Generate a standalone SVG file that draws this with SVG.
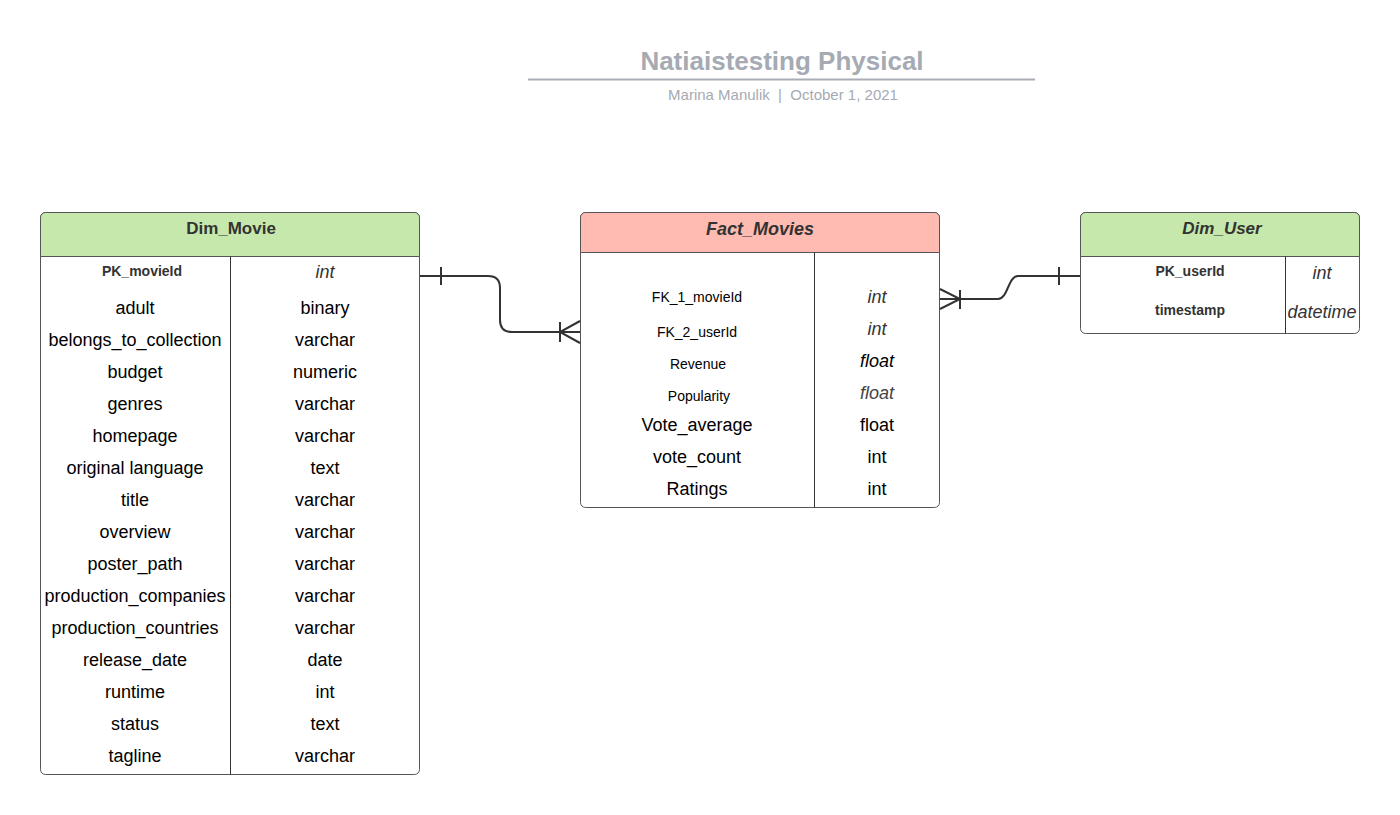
<svg xmlns="http://www.w3.org/2000/svg" width="1400" height="815" viewBox="0 0 1400 815">
<style>
text{font-family:"Liberation Sans",Arial,sans-serif;text-anchor:middle}
.hdr{font-size:17px;font-weight:bold;fill:#333}
.pk{font-size:14px;font-weight:bold;fill:#333}
.f{font-size:18px;fill:#000}
.s{font-size:14px;fill:#000}
.i{font-size:18px;font-style:italic;fill:#333}
.box{fill:#fff;stroke:#555;stroke-width:1}
.div{stroke:#333;stroke-width:1}
.con{fill:none;stroke:#333;stroke-width:2}
</style>
<rect width="1400" height="815" fill="#fff"/>
<g id="title">
<text x="782" y="70" style="font-size:26px;font-weight:bold;fill:#a5aab3">Natiaistesting Physical</text>
<line x1="528" y1="79.500" x2="1035" y2="79.500" stroke="#a9adb5" stroke-width="2"/>
<text x="783" y="100" style="font-size:15px;fill:#a5aab3">Marina Manulik &#160;|&#160; October 1, 2021</text>
</g>
<g id="dim_movie">
<rect class="box" x="40.500" y="212.500" width="379" height="562" rx="5"/>
<path d="M40.500 256.500 V217.500 a5 5 0 0 1 5 -5 H414.500 a5 5 0 0 1 5 5 V256.500 Z" fill="#c7e8ac" stroke="#555"/>
<line class="div" x1="230.500" y1="256.500" x2="230.500" y2="774.500"/>
<text class="hdr" x="231" y="234">Dim_Movie</text>
<text class="pk" x="142" y="276">PK_movieId</text>
<text class="i" x="325" y="278">int</text>
<text class="f" x="135" y="314">adult</text><text class="f" x="325" y="314">binary</text>
<text class="f" x="135" y="346">belongs_to_collection</text><text class="f" x="325" y="346">varchar</text>
<text class="f" x="135" y="378">budget</text><text class="f" x="325" y="378">numeric</text>
<text class="f" x="135" y="410">genres</text><text class="f" x="325" y="410">varchar</text>
<text class="f" x="135" y="442">homepage</text><text class="f" x="325" y="442">varchar</text>
<text class="f" x="135" y="474">original language</text><text class="f" x="325" y="474">text</text>
<text class="f" x="135" y="506">title</text><text class="f" x="325" y="506">varchar</text>
<text class="f" x="135" y="538">overview</text><text class="f" x="325" y="538">varchar</text>
<text class="f" x="135" y="570">poster_path</text><text class="f" x="325" y="570">varchar</text>
<text class="f" x="135" y="602">production_companies</text><text class="f" x="325" y="602">varchar</text>
<text class="f" x="135" y="634">production_countries</text><text class="f" x="325" y="634">varchar</text>
<text class="f" x="135" y="666">release_date</text><text class="f" x="325" y="666">date</text>
<text class="f" x="135" y="698">runtime</text><text class="f" x="325" y="698">int</text>
<text class="f" x="135" y="730">status</text><text class="f" x="325" y="730">text</text>
<text class="f" x="135" y="762">tagline</text><text class="f" x="325" y="762">varchar</text>
</g>
<g id="fact_movies">
<rect class="box" x="580.500" y="212.500" width="359" height="295" rx="5"/>
<path d="M580.500 252.500 V217.500 a5 5 0 0 1 5 -5 H934.500 a5 5 0 0 1 5 5 V252.500 Z" fill="#ffbbb1" stroke="#555"/>
<line class="div" x1="814.500" y1="252.500" x2="814.500" y2="507.500"/>
<text class="hdr" x="760" y="235" style="font-size:18px;font-style:italic">Fact_Movies</text>
<text class="s" x="697" y="302">FK_1_movieId</text><text class="i" x="877" y="303">int</text>
<text class="s" x="697" y="337">FK_2_userId</text><text class="i" x="877" y="335">int</text>
<text class="s" x="698" y="369">Revenue</text><text class="i" x="877" y="367" style="fill:#000">float</text>
<text class="s" x="699" y="401">Popularity</text><text class="i" x="877" y="399" style="fill:#444">float</text>
<text class="f" x="697" y="431">Vote_average</text><text class="f" x="877" y="431">float</text>
<text class="f" x="697" y="463">vote_count</text><text class="f" x="877" y="463">int</text>
<text class="f" x="697" y="495">Ratings</text><text class="f" x="877" y="495">int</text>
</g>
<g id="dim_user">
<rect class="box" x="1080.500" y="212.500" width="279" height="121" rx="5"/>
<path d="M1080.500 256.500 V217.500 a5 5 0 0 1 5 -5 H1354.500 a5 5 0 0 1 5 5 V256.500 Z" fill="#c7e8ac" stroke="#555"/>
<line class="div" x1="1285.500" y1="256.500" x2="1285.500" y2="333.500"/>
<text class="hdr" x="1222" y="234" style="font-style:italic">Dim_User</text>
<text class="pk" x="1190" y="276">PK_userId</text><text class="i" x="1322" y="279">int</text>
<text class="pk" x="1190" y="315">timestamp</text><text class="i" x="1322" y="318">datetime</text>
</g>
<g id="connectors">
<path class="con" d="M420 276 H488 Q500 276 500 288 V320 Q500 332 512 332 H580"/>
<line class="con" x1="441" y1="267" x2="441" y2="285"/>
<line class="con" x1="560" y1="322" x2="560" y2="342"/>
<path class="con" d="M580 321 L560 332 L580 343"/>
<path class="con" d="M940 299 H998 C1008 299 1008 276 1018 276 H1080"/>
<line class="con" x1="1059" y1="267" x2="1059" y2="285"/>
<line class="con" x1="960" y1="290" x2="960" y2="309"/>
<path class="con" d="M940 289 L960 299 L940 309"/>
</g>
</svg>
